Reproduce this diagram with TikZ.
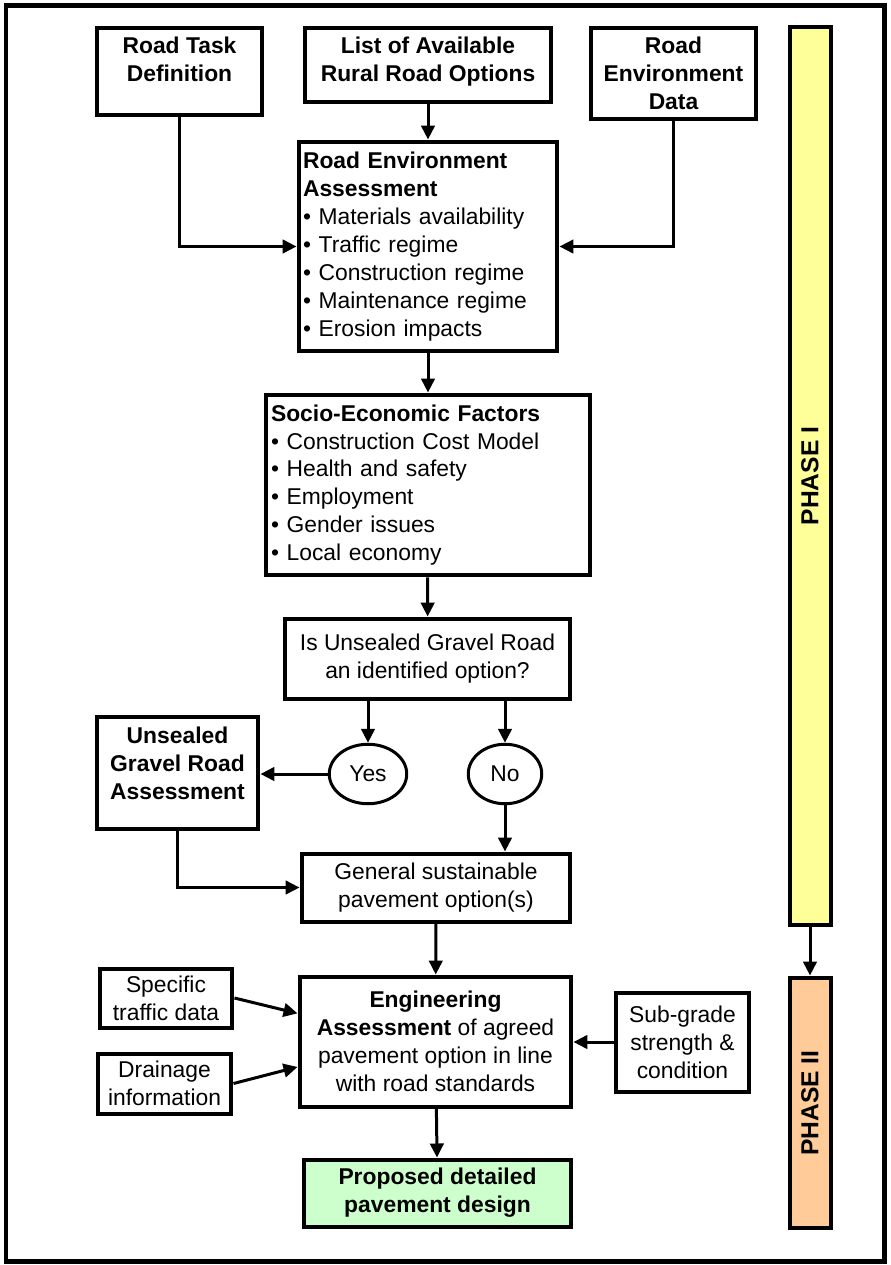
\documentclass[tikz,border=0pt]{standalone}
\usepackage{fontspec}
\setmainfont{Liberation Sans}
\usetikzlibrary{shapes, arrows.meta, positioning, calc}
\definecolor{phaseyellow}{RGB}{255, 255, 153}
\definecolor{phaseorange}{RGB}{255, 204, 153}
\definecolor{designgreen}{RGB}{204, 255, 204}

\tikzset{
  stepbox/.style={draw, rectangle, line width=0.08cm, inner sep=0.05cm,
    align=center, font=\fontsize{13}{15.9}\selectfont},
  headbox/.style={stepbox, font=\fontsize{13}{15.9}\selectfont\bfseries},
  listbox/.style={stepbox, align=left},
  answer/.style={draw, ellipse, line width=0.06cm, inner sep=0pt,
    font=\fontsize{13}{15.9}\selectfont},
  phasebar/.style={draw, rectangle, line width=0.08cm, inner sep=0pt,
    font=\fontsize{14}{16}\selectfont\bfseries},
  flow/.style={-{Triangle[length=0.28cm, width=0.27cm]}, line width=0.06cm},
}

\begin{document}
\begin{tikzpicture}[x=0.02cm, y=-0.02cm]
        \useasboundingbox (0,0) rectangle (890,1265);
        \draw[line width=0.1cm] (6,5) rectangle (884,1261);

        % inputs
        \node[headbox, minimum width=3.32cm, minimum height=1.76cm]
          (task) at (179.5,71.5) {Road Task\\Definition\\[-2pt]\mbox{}};
        \node[headbox, minimum width=4.94cm, minimum height=1.50cm]
          (options) at (428,65) {List of Available\\Rural Road Options\\[-9pt]\mbox{}};
        \node[headbox, minimum width=3.32cm, minimum height=1.84cm]
          (envdata) at (673.5,73.5) {Road\\Environment\\Data};

        % phases
        \node[phasebar, fill=phaseyellow, minimum width=0.82cm, minimum height=17.98cm]
          (phaseone) at (810,476) {\rotatebox{90}{PHASE I}};
        \node[phasebar, fill=phaseorange, minimum width=0.82cm, minimum height=5.02cm]
          (phasetwo) at (810,1103) {\rotatebox{90}{PHASE II}};

        % assessments
        \node[listbox, minimum width=5.18cm, minimum height=4.20cm, text width=5.0cm]
          (rea) at (428,246.5) {\textbf{Road Environment}\\\textbf{Assessment}\\
            • Materials availability\\• Traffic regime\\• Construction regime\\
            • Maintenance regime\\• Erosion impacts};
        \node[listbox, minimum width=6.50cm, minimum height=3.62cm, text width=6.28cm]
          (sef) at (428,485) {\textbf{Socio-Economic Factors}\\
            • Construction Cost Model\\• Health and safety\\• Employment\\
            • Gender issues\\• Local economy};
        \node[stepbox, minimum width=5.72cm, minimum height=1.60cm]
          (decision) at (427.5,658.5) {Is Unsealed Gravel Road\\an identified option?};

        \node[answer, minimum width=1.55cm, minimum height=1.19cm] (yes) at (368,774) {Yes};
        \node[answer, minimum width=1.47cm, minimum height=1.19cm] (no) at (505,774) {No};

        \node[headbox, minimum width=3.24cm, minimum height=2.24cm]
          (ugra) at (177.5,772.5) {Unsealed\\Gravel Road\\Assessment\\[-5pt]\mbox{}};
        \node[stepbox, minimum width=5.38cm, minimum height=1.36cm]
          (general) at (436,887.5) {General sustainable\\pavement option(s)};

        % phase II
        \node[stepbox, minimum width=5.44cm, minimum height=2.60cm]
          (eng) at (435.5,1041.5) {\textbf{Engineering}\\\textbf{Assessment} of agreed\\
            pavement option in line\\with road standards};
        \node[stepbox, minimum width=2.66cm, minimum height=1.18cm]
          (specific) at (166,998) {Specific\\traffic data};
        \node[stepbox, minimum width=2.68cm, minimum height=1.20cm]
          (drain) at (164.5,1083.5) {Drainage\\information};
        \node[stepbox, minimum width=2.68cm, minimum height=1.98cm]
          (subgrade) at (682.5,1042) {Sub-grade\\strength \&\\condition};
        \node[headbox, fill=designgreen, minimum width=5.36cm, minimum height=1.34cm]
          (proposed) at (437.5,1193) {Proposed detailed\\pavement design};

        % connectors
        \draw[flow] (options) -- (rea);
        \draw[flow] (task.south) |- (rea.west);
        \draw[flow] (envdata.south) |- (rea.east);
        \draw[flow] (rea) -- (sef);
        \draw[flow] (sef) -- (decision);
        \draw[flow] (yes |- decision.south) -- (yes.north);
        \draw[flow] (no |- decision.south) -- (no.north);
        \draw[flow] (yes.west) -- (yes.west -| ugra.east);
        \draw[flow] (no.south) -- (no.south |- general.north);
        \draw[flow] (ugra.south) |- (general.west);
        \draw[flow] (general) -- (eng);
        \draw[flow] (specific.east) -- ($(eng.north west)!0.29!(eng.south west)$);
        \draw[flow] (drain.east) -- ($(eng.north west)!0.69!(eng.south west)$);
        \draw[flow] (subgrade.west) -- (subgrade.west -| eng.east);
        \draw[flow] (eng) -- (proposed);
        \draw[flow] (phaseone) -- (phasetwo);
      \end{tikzpicture}
\end{document}
